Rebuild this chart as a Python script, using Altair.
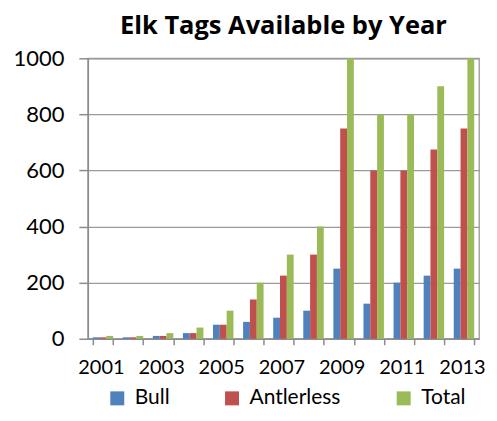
import altair as alt
import pandas as pd

years = [2001, 2002, 2003, 2004, 2005, 2006, 2007, 2008, 2009, 2010, 2011, 2012, 2013]
bull = [5, 5, 10, 20, 50, 60, 75, 100, 250, 125, 200, 225, 250]
antlerless = [5, 5, 10, 20, 50, 140, 225, 300, 750, 600, 600, 675, 750]
total = [10, 10, 20, 40, 100, 200, 300, 400, 1000, 800, 800, 900, 1000]
series_names = ["Bull", "Antlerless", "Total"]
series_colors = ["#4F81BD", "#C0504D", "#9BBB59"]
y_ticks = [0, 200, 400, 600, 800, 1000]

rows = []
for name, vals in zip(series_names, [bull, antlerless, total]):
    for yr, v in zip(years, vals):
        rows.append({"year": yr, "series": name, "value": v})
df = pd.DataFrame(rows)

FONT = "Lato"

chart = alt.Chart(df).mark_bar().encode(
    x=alt.X("year:O",
            scale=alt.Scale(paddingInner=0.32, paddingOuter=0.16),
            axis=alt.Axis(title=None, labelAngle=0, tickBand="extent",
                          labelExpr="datum.value % 2 == 1 ? datum.label : ''",
                          labelFontSize=20, labelFont=FONT, labelColor="#000",
                          labelOffset=-2,
                          tickSize=6, labelPadding=13,
                          domainColor="#8c8c8c", tickColor="#8c8c8c",
                          domainWidth=1.5, tickWidth=1.5)),
    xOffset=alt.XOffset("series:N", sort=series_names),
    y=alt.Y("value:Q",
            scale=alt.Scale(domain=[0, 1000], nice=False),
            axis=alt.Axis(title=None, values=y_ticks, format="d", labelFontSize=22,
                          labelFont=FONT, labelColor="#000",
                          tickSize=9, labelPadding=15,
                          domainColor="#8c8c8c", tickColor="#8c8c8c",
                          domainWidth=1.5, tickWidth=1.5,
                          gridColor="#9a9a9a", gridWidth=1.3)),
    color=alt.Color("series:N",
                    scale=alt.Scale(domain=series_names, range=series_colors),
                    legend=alt.Legend(title=None, orient="none", direction="horizontal",
                                      legendX=19, legendY=330,
                                      symbolType="square", symbolSize=196,
                                      symbolStrokeWidth=0, symbolOpacity=1,
                                      labelFont=FONT, labelFontSize=21,
                                      labelColor="#000", labelOffset=7,
                                      columnPadding=52)),
).properties(
    width=392,
    height=281,
    title=alt.TitleParams("Elk Tags Available by Year", fontSize=25.5,
                          fontWeight="bold", font="Open Sans", color="#000",
                          anchor="middle", offset=8),
    autosize=alt.AutoSizeParams(type="none"),
    padding={"left": 80, "top": 50, "right": 10, "bottom": 68},
).configure_view(
    stroke="#9a9a9a", strokeWidth=1.3
)

chart.save("out.html", embed_options={"renderer": "svg", "actions": False})
